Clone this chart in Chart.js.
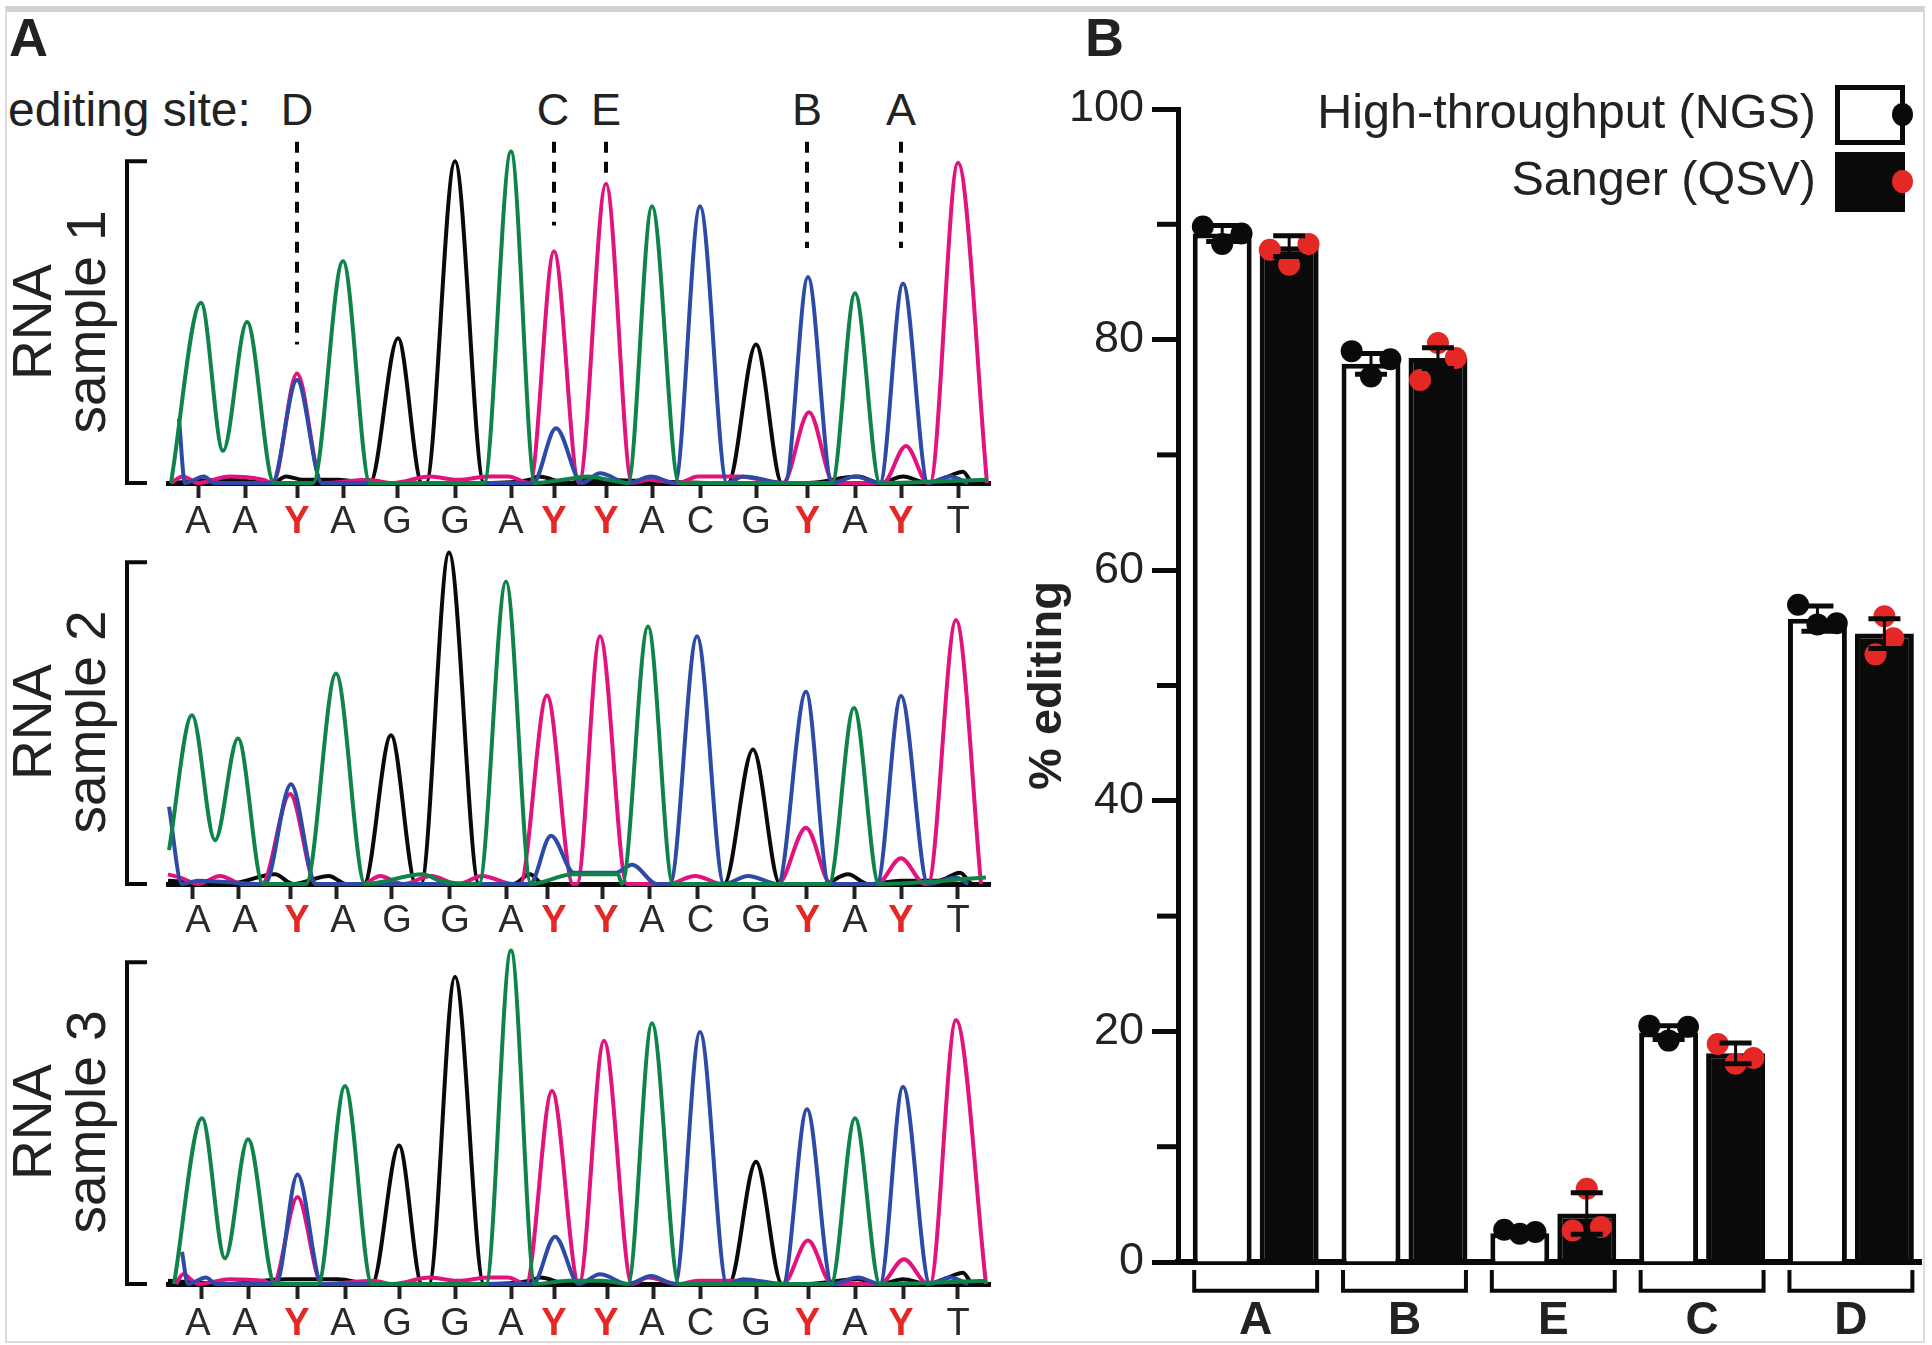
<!DOCTYPE html>
<html>
<head>
<meta charset="utf-8">
<script src="https://cdn.jsdelivr.net/npm/chart.js@4"></script>
<style>
  html, body { margin: 0; padding: 0; background: #fff; }
  #page { position: relative; width: 1932px; height: 1345px; overflow: hidden; font-family: "Liberation Sans", Arial, sans-serif; color: #222; }
  #frame { position: absolute; left: 5px; top: 6px; width: 1916px; height: 1329px; border: 2px solid #dcdcdc; border-top: 6px solid #d2d2d2; }
  canvas { position: absolute; }
  .txt { position: absolute; white-space: pre; }
  .panel { font-size: 54px; font-weight: bold; line-height: 54px; }
  .site { font-size: 45px; line-height: 50px; transform: translateX(-50%); }
  .rna { font-size: 55px; line-height: 54px; text-align: center; transform: translate(-50%, -50%) rotate(-90deg); }
  .leg { font-size: 48.5px; line-height: 54px; right: 116px; }
  .swatch { position: absolute; left: 1835px; width: 70px; height: 60px; box-sizing: border-box; border: 5px solid #0a0a0a; }
  .legdot { position: absolute; left: 1892px; width: 21px; height: 23px; border-radius: 50%; }
</style>
</head>
<body>
<div id="page">
  <div id="frame"></div>
  <div class="txt panel" style="left:9px;top:10px">A</div>
  <div class="txt panel" style="left:1085px;top:10px">B</div>
  <div class="txt site" style="left:8px;top:85px;transform:none;font-size:48px">editing site:</div>
  <div class="txt site" style="left:297px;top:85px">D</div>
  <div class="txt site" style="left:553px;top:85px">C</div>
  <div class="txt site" style="left:606px;top:85px">E</div>
  <div class="txt site" style="left:807px;top:85px">B</div>
  <div class="txt site" style="left:901px;top:85px">A</div>
  <div class="txt rna" style="left:59px;top:322px">RNA
sample 1</div>
  <div class="txt rna" style="left:59px;top:722px">RNA
sample 2</div>
  <div class="txt rna" style="left:59px;top:1122px">RNA
sample 3</div>
  <canvas id="sample1" width="1000" height="424" style="left:0;top:129px"></canvas>
  <canvas id="sample2" width="1000" height="424" style="left:0;top:530px"></canvas>
  <canvas id="sample3" width="1000" height="415" style="left:0;top:930px"></canvas>
  <canvas id="editing" width="932" height="1285" style="left:1000px;top:60px"></canvas>
  <div class="txt leg" style="top:84px">High-throughput (NGS)</div>
  <div class="txt leg" style="top:151px">Sanger (QSV)</div>
  <div class="swatch" style="top:85px;background:#fff"></div>
  <div class="swatch" style="top:152px;background:#0a0a0a"></div>
  <div class="legdot" style="top:103px;background:#0a0a0a"></div>
  <div class="legdot" style="top:170px;background:#e42826"></div>
</div>
<script>
// called bases under each trace
const bases = ["A","A","Y","A","G","G","A","Y","Y","A","C","G","Y","A","Y","T"];
const baseLabelPos = [30,77,129,175,229,287,343,386,438,484,532.5,588,639.5,687,733,790];

const sample1Ticks = [30,77,129,175,229,287,343,386,438,484,532.5,588,639.5,687,733,790];
const sample2Ticks = [24,70,122,168,223,281,338,379,434,481,529,585,638,686,733,789];
const sample3Ticks = [33,80,129,177,231,287,343,386,439,485,532,588,640,687,735,789];

// traces as [scan, signal], signal 100 = top of the bracket
const green1 = [[3,0],[33,56],[55,10],[79,50],[106,0],[145,0],[175,69],[202,0],[316,0],[343,103],[367,0],[395,1],[420,2],[440,1],[460,0],[484,86],[511,0],[664,0],[687,59],[712,0],[819,1]];
const blue1 = [[11,20],[17,0],[36,2],[46,0],[104,0],[129,32],[154,0],[365,0],[388,17],[414,0],[432,3],[460,0],[483,2],[507,0],[532,86],[559,0],[575,2],[617,0],[640,64],[664,0],[687,2],[712,0],[735,62],[760,0],[782,2],[800,0]];
const pink1 = [[3,0],[15,2],[30,0],[62,2],[95,1],[105,0],[129,34],[154,0],[200,1],[225,0],[262,2],[290,1],[320,2],[340,2],[362,0],[386,72],[411,0],[438,93],[464,0],[480,1],[510,0],[530,2],[570,2],[615,0],[641,22],[666,0],[715,0],[738,11.5],[760,0],[762,0],[790,99.5],[819,0]];
const black1 = [[0,0],[60,1],[105,0],[118,2],[135,1],[170,1],[202,0],[230,45],[254,0],[258,0],[287,100],[316,0],[362,1],[370,2],[400,0],[420,1],[560,0],[588,43],[614,0],[640,0],[690,2],[712,0],[735,2],[760,0],[780,2],[795,3.5],[805,0],[822,0]];

const green2 = [[1,10.5],[24,52.4],[47,13.6],[70,45.2],[95,0],[138,0],[168,65.4],[197,0],[255,3],[272,1],[311,0],[338,94],[363,0],[405,3],[450,3],[454,0],[480,80],[505,0],[661,0],[686,54.7],[711,0],[818,2]];
const blue2 = [[1,24],[14,0],[30,1],[97,0],[123,31],[148,0],[362,0],[383,15],[406,3.5],[448,3.5],[464,6],[489,0],[502,0],[529,77],[556,0],[580,2.5],[610,0],[638,59.7],[661,0],[709,0],[733,58.4],[760,0],[788,2],[800,0]];
const pink2 = [[0,3],[12,2],[30,0],[52,2.5],[75,0],[94,0],[122,28],[148,0],[195,0],[212,2.5],[235,0],[263,2.5],[290,0],[314,2.5],[345,0],[352,0],[379,58.6],[405,0],[409,0],[432,77],[459,0],[500,0],[527,2.5],[555,0],[610,0],[638,17.5],[663,0],[709,0],[733,8],[757,0],[760,0],[788,82],[813,0]];
const black2 = [[0,1],[60,0],[107,3],[125,0],[161,2.5],[178,0],[196,0],[223,46.2],[248,0],[253,0],[281,103],[311,0],[345,0],[362,3],[375,0],[556,0],[585,41.8],[612,0],[655,0],[680,3],[700,0],[733,1],[770,1],[792,3.5],[805,0],[822,0]];

const green3 = [[6,0],[34,51.5],[57,8],[80,45],[107,0],[150,0],[177,61.5],[204,0],[318,0],[343,103.6],[367,0],[400,1],[435,1],[460,0],[484,81],[511,0],[663,0],[687,51.5],[712,0],[819,1]];
const blue3 = [[14,10],[20,0],[38,2],[48,0],[108,0],[129.5,34],[154,0],[365,0],[387,14.7],[411,0],[432,3],[460,0],[483,2.5],[507,0],[532,78.3],[559,0],[575,1.5],[615,0],[639,54.3],[664,0],[690,2],[712,0],[735,61.3],[762,0],[782,2],[800,0]];
const pink3 = [[8,0],[15,3],[30,0],[62,1.5],[95,1],[105,0],[129.5,27],[154,0],[205,1],[225,0],[262,2],[290,1],[320,2],[340,2],[358,0],[384,60],[411,0],[436,75.6],[464,0],[480,2],[510,0],[530,1],[570,1],[615,0],[640,13.5],[664,0],[712,0],[736,7.7],[760,0],[762,0],[788,82],[818,0]];
const black3 = [[0,1],[60,0],[118,1.5],[170,1.5],[204,0],[231,43],[254,0],[261,0],[287,95.5],[316,0],[362,1],[372,2],[400,0],[420,0],[561,0],[588,38],[614,0],[640,0],[690,1.5],[712,0],[735,1.5],[760,0],[780,2],[795,3.5],[805,0],[822,0]];

// dashed guides from the site letters: [scan, top, bottom]
const siteGuides = [[129,106,43],[386,106,80],[438,106,95],[639,106,73],[733,106,73]];

// panel B
const sites = ["A","B","E","C","D"];
const ngsMeans = [89.2,77.9,2.5,19.9,55.8];
const ngsErr = [0.7,0.9,0.2,0.6,1.1];
const sangerMeans = [88.1,78.4,4.2,18.1,54.5];
const sangerErr = [0.9,0.9,1.8,0.9,1.3];
const ngsDots = [[89.8,88.3,89.2],[79,76.8,78.3],[2.8,2.45,2.6],[20.5,19.2,20.4],[57,55.3,55.4]];
const sangerDots = [[87.8,86.5,88.3],[76.5,79.7,78.4],[2.74,6.35,3.03],[18.9,17.2,17.7],[52.7,56,54.1]];
const yTicks = [0,20,40,60,80,100];
const yMinorTicks = [10,30,50,70,90];

const GREEN = "#0e8449";
const BLUE = "#2c4aa6";
const PINK = "#e2127f";
const INK = "#0a0a0a";
const RED = "#e42826";
const FONT = '"Liberation Sans", Arial, sans-serif';

const sideOffset = 0.225;
const ngsSpread = [0.13,0.13,0.105,0.13,0.13];
const sangerSpread = [0.13,0.12,0.095,0.12,0.06];

function trace(data, color) {
  return {
    data: data,
    borderColor: color,
    borderWidth: 4,
    pointRadius: 0,
    cubicInterpolationMode: "monotone",
    clip: false,
  };
}

function straight(data, width, dash) {
  return {
    data: data,
    borderColor: INK,
    borderWidth: width,
    borderDash: dash || [],
    pointRadius: 0,
    tension: 0,
    clip: false,
  };
}

function drawSample(id, green, blue, pink, black, tickPos, labelPad, extra) {
  const bracket = [[-21,0],[-41,0],[-41,100],[-21,100]];
  new Chart(document.getElementById(id), {
    type: "line",
    data: {
      datasets: [
        trace(green, GREEN),
        trace(blue, BLUE),
        trace(pink, PINK),
        trace(black, INK),
        straight(bracket, 4),
      ].concat(extra || []),
    },
    options: {
      responsive: false,
      animation: false,
      layout: { padding: { left: 168, right: 10, top: 0, bottom: 0 } },
      plugins: { legend: { display: false }, tooltip: { enabled: false } },
      scales: {
        y: { display: false, min: 0, max: 110 },
        x: {
          type: "linear",
          min: 0,
          max: 822,
          weight: 0,
          afterBuildTicks: (scale) => { scale.ticks = tickPos.map((v) => ({ value: v })); },
          afterFit: (scale) => { scale.height = 15; },
          border: { color: INK, width: 5 },
          grid: { drawOnChartArea: false, tickLength: 15, tickWidth: 4, tickColor: "#222" },
          ticks: { display: false, autoSkip: false },
        },
        xBases: {
          type: "linear",
          axis: "x",
          position: "bottom",
          min: 0,
          max: 822,
          weight: 1,
          afterBuildTicks: (scale) => { scale.ticks = baseLabelPos.map((v) => ({ value: v })); },
          afterFit: (scale) => { scale.height = document.getElementById(id).height - 354 - 15; },
          border: { display: false },
          grid: { display: false, drawTicks: false },
          ticks: {
            autoSkip: false,
            maxRotation: 0,
            padding: labelPad,
            callback: (v, i) => bases[i],
            color: (ctx) => (bases[ctx.index] === "Y" ? RED : "#2a2a2a"),
            font: (ctx) => ({ family: FONT, size: 38, weight: bases[ctx.index] === "Y" ? "bold" : "normal" }),
          },
        },
      },
    },
  });
}

const guides = siteGuides.map((g) => straight([[g[0],g[1]],[g[0],g[2]]], 4, [11,9]));
drawSample("sample1", green1, blue1, pink1, black1, sample1Ticks, 2, guides);
drawSample("sample2", green2, blue2, pink2, black2, sample2Ticks, 0);
drawSample("sample3", green3, blue3, pink3, black3, sample3Ticks, 3);

// error bars sit on top of the dots, minor ticks are shorter than the labelled ones
const editingExtras = {
  id: "editingExtras",
  afterDatasetsDraw(chart) {
    const { ctx, scales: { x, y } } = chart;
    ctx.save();
    ctx.strokeStyle = INK;
    sites.forEach((s, i) => {
      [[ngsMeans, ngsErr, -sideOffset], [sangerMeans, sangerErr, sideOffset]].forEach(([means, errs, off]) => {
        const px = x.getPixelForValue(i + off);
        const hi = y.getPixelForValue(means[i] + errs[i]);
        const lo = y.getPixelForValue(means[i] - errs[i]);
        ctx.lineWidth = 3;
        ctx.beginPath(); ctx.moveTo(px, hi); ctx.lineTo(px, lo); ctx.stroke();
        ctx.lineWidth = 5;
        ctx.beginPath();
        ctx.moveTo(px - 16, hi); ctx.lineTo(px + 16, hi);
        ctx.moveTo(px - 16, lo); ctx.lineTo(px + 16, lo);
        ctx.stroke();
      });
    });
    ctx.lineWidth = 5;
    yMinorTicks.forEach((v) => {
      const py = y.getPixelForValue(v);
      ctx.beginPath(); ctx.moveTo(x.left - 21, py); ctx.lineTo(x.left, py); ctx.stroke();
    });
    ctx.restore();
  },
};

const dotPoints = (dots, side, spread) => dots.flatMap((vals, i) =>
  vals.map((v, j) => ({ x: i + side + (j - 1) * spread[i], y: v })));

const groupBrackets = sites.map((s, i) => straight([
  { x: i - 0.413, y: -0.7 }, { x: i - 0.413, y: -2.5 }, { x: i + 0.413, y: -2.5 }, { x: i + 0.413, y: -0.7 },
], 4)).map((d) => Object.assign(d, { type: "line", parsing: false, order: 0 }));

new Chart(document.getElementById("editing"), {
  type: "bar",
  data: {
    datasets: [
      {
        label: "High-throughput (NGS)",
        data: ngsMeans.map((v, i) => ({ x: i, y: v })),
        backgroundColor: "#fff",
        borderColor: INK,
        borderWidth: 5,
        categoryPercentage: 0.9,
        barPercentage: 0.88,
        order: 3,
      },
      {
        label: "Sanger (QSV)",
        data: sangerMeans.map((v, i) => ({ x: i, y: v })),
        backgroundColor: INK,
        borderColor: INK,
        borderWidth: 5,
        categoryPercentage: 0.9,
        barPercentage: 0.88,
        order: 3,
      },
      { type: "scatter", data: dotPoints(ngsDots, -sideOffset, ngsSpread), backgroundColor: INK, borderWidth: 0, pointRadius: 11, order: 1, clip: false },
      { type: "scatter", data: dotPoints(sangerDots, sideOffset, sangerSpread), backgroundColor: RED, borderWidth: 0, pointRadius: 11, order: 1, clip: false },
    ].concat(groupBrackets),
  },
  options: {
    responsive: false,
    animation: false,
    layout: { padding: { left: 0, right: 10, top: 49, bottom: 0 } },
    plugins: { legend: { display: false }, tooltip: { enabled: false } },
    scales: {
      x: {
        type: "linear",
        offset: false,
        min: -0.522,
        max: 4.471,
        afterBuildTicks: (scale) => { scale.ticks = sites.map((s, i) => ({ value: i })); },
        afterFit: (scale) => { scale.height = 83; },
        border: { color: INK, width: 6 },
        grid: { display: false, offset: false, drawTicks: false },
        ticks: {
          autoSkip: false,
          maxRotation: 0,
          padding: 32,
          color: "#222",
          font: { family: FONT, size: 46, weight: "bold" },
          callback: (v, i) => sites[i],
        },
      },
      y: {
        min: 0,
        max: 100,
        afterBuildTicks: (scale) => { scale.ticks = yTicks.map((v) => ({ value: v })); },
        afterFit: (scale) => { scale.width = 178; },
        border: { color: INK, width: 5 },
        grid: { drawOnChartArea: false, tickLength: 26, tickWidth: 5, tickColor: INK },
        title: {
          display: true,
          text: "% editing",
          color: "#222",
          font: { family: FONT, size: 47, weight: "bold" },
          padding: { top: 20, bottom: 0 },
        },
        ticks: {
          padding: 8,
          color: "#222",
          font: { family: FONT, size: 45 },
        },
      },
    },
  },
  plugins: [editingExtras],
});
</script>
</body>
</html>
